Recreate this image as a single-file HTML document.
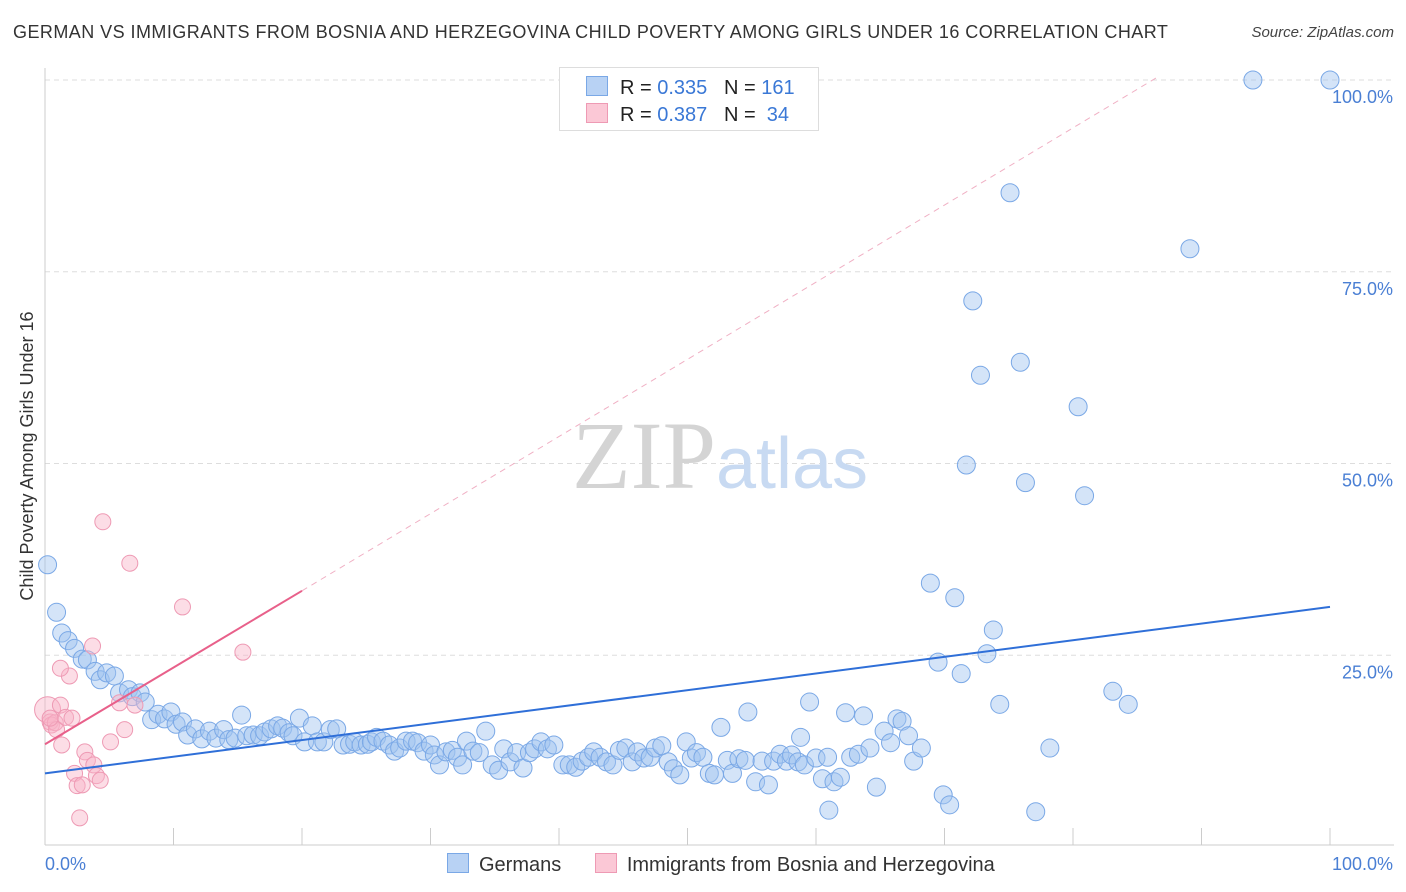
<!DOCTYPE html>
<html><head><meta charset="utf-8"><style>
body{margin:0;background:#fff;font-family:"Liberation Sans",sans-serif;}
#wrap{position:relative;width:1406px;height:892px;overflow:hidden;}
</style></head><body>
<div id="wrap">
<div style="position:absolute;left:13px;top:22px;font-size:18px;color:#333;letter-spacing:0.45px;">GERMAN VS IMMIGRANTS FROM BOSNIA AND HERZEGOVINA CHILD POVERTY AMONG GIRLS UNDER 16 CORRELATION CHART</div>
<div style="position:absolute;right:12px;top:24px;font-size:15px;color:#444;font-style:italic;">Source: ZipAtlas.com</div>
<svg id="svg" width="1406" height="892" style="position:absolute;left:0;top:0"></svg>
</div>
<script>
const blueX=[0.2,0.9,1.3,1.8,2.3,2.9,3.3,3.9,4.3,4.8,5.4,5.8,6.5,6.8,7.4,7.8,8.3,8.8,9.3,9.8,10.2,10.7,11.1,11.7,12.2,12.8,13.3,13.9,14.3,14.8,15.3,15.7,16.2,16.7,17.1,17.6,18.1,18.5,19.0,19.3,19.8,20.2,20.8,21.2,21.7,22.2,22.7,23.2,23.7,24.1,24.6,25.1,25.4,25.8,26.3,26.8,27.2,27.6,28.1,28.6,29.0,29.5,30.0,30.3,30.7,31.2,31.7,32.1,32.5,32.8,33.3,33.8,34.3,34.8,35.3,35.7,36.2,36.7,37.2,37.7,38.1,38.6,39.1,39.6,40.3,40.8,41.3,41.8,42.3,42.7,43.2,43.7,44.2,44.7,45.2,45.7,46.1,46.6,47.1,47.5,48.0,48.5,48.9,49.4,49.9,50.3,50.7,51.2,51.7,52.1,52.6,53.1,53.5,54.0,54.5,54.7,55.3,55.8,56.3,56.7,57.2,57.7,58.1,58.6,58.8,59.1,59.5,60.0,60.5,60.9,61.0,61.4,61.9,62.3,62.7,63.3,63.7,64.2,64.7,65.3,65.8,66.3,66.7,67.2,67.6,68.2,68.9,69.5,69.9,70.4,70.8,71.3,71.7,72.2,72.8,73.3,73.8,74.3,75.1,75.9,76.3,77.1,78.2,80.4,80.9,83.1,84.3,89.1,94.0,100];
const blueY=[36.8,30.6,27.9,26.9,25.9,24.5,24.4,22.9,21.8,22.7,22.3,20.1,20.5,19.6,20.1,18.9,16.6,17.3,16.7,17.6,16.0,16.3,14.6,15.4,14.1,15.1,14.2,15.3,14.0,14.2,17.2,14.5,14.6,14.5,15.0,15.4,15.8,15.5,14.9,14.5,16.8,13.7,15.8,13.7,13.7,15.3,15.4,13.3,13.4,13.7,13.3,13.4,13.7,14.3,13.8,13.3,12.5,12.9,13.8,13.8,13.6,12.5,13.3,12.0,10.7,12.4,12.6,11.7,10.7,13.8,12.5,12.3,15.1,10.7,10.0,12.8,11.1,12.3,10.3,12.3,12.8,13.7,12.8,13.3,10.7,10.7,10.4,11.2,11.7,12.4,11.7,11.1,10.7,12.6,12.9,11.1,12.4,11.6,11.7,12.9,13.2,11.1,10.2,9.4,13.7,11.6,12.3,11.7,9.6,9.4,15.6,11.3,9.6,11.5,11.3,17.6,8.5,11.2,8.1,11.2,12.1,11.2,12.0,11.1,14.3,10.7,18.9,11.6,8.9,11.7,4.8,8.5,9.1,17.5,11.7,12.1,17.1,12.9,7.8,15.1,13.6,16.7,16.4,14.5,11.2,12.9,34.4,24.1,6.8,5.5,32.5,22.6,49.8,71.2,61.5,25.2,28.3,18.6,85.3,63.2,47.5,4.6,12.9,57.4,45.8,20.3,18.6,78.0,100,100];
const pinkX=[0.2,0.4,0.5,0.8,0.9,1.2,1.3,1.6,1.9,2.1,2.3,2.5,2.7,2.9,3.1,3.3,3.7,3.8,4.0,4.3,4.5,5.1,5.8,6.2,6.6,7.0,10.7,15.4,1.2,0.4];
const pinkY=[17.9,16.3,15.9,16.2,15.3,18.5,13.3,16.9,22.3,16.8,9.6,8.0,3.8,8.1,12.4,11.3,26.2,10.7,9.3,8.7,42.4,13.7,18.8,15.3,37.0,18.5,31.3,25.4,23.3,16.8];
const blueTrend=[0,9.6,100,31.3];
const pinkTrend=[0,13.4,20,33.4,86.7,100.5];
const yTicks=[25,50,75,100];
const xTicks=[0,10,20,30,40,50,60,70,80,90,100];

const X=v=>45+v*12.85, Y=v=>847-v*7.67;
const svg=document.getElementById('svg');
const NS='http://www.w3.org/2000/svg';
function mk(t,a){const e=document.createElementNS(NS,t);for(const k in a)e.setAttribute(k,a[k]);svg.appendChild(e);return e;}
yTicks.forEach(t=>{
 const l=mk('line',{x1:45,x2:1394,y1:Y(t),y2:Y(t),stroke:'#ddd','stroke-dasharray':'5,4'});
 
 
 const tx=mk('text',{x:1393,y:Y(t)+23,'text-anchor':'end','font-size':18,fill:'#4a7fd4','font-family':'Liberation Sans'});
 tx.textContent=t.toFixed(1)+'%';
 
 
});
const ax=mk('line',{x1:45,x2:1394,y1:845,y2:845,stroke:'#ccc'});


const ay=mk('line',{x1:45,x2:45,y1:68,y2:845,stroke:'#ccc'});


xTicks.forEach(t=>{
 const l=mk('line',{x1:X(t),x2:X(t),y1:828,y2:845,stroke:'#ccc'});
 
 
});
[[0,'start','0.0%'],[100,'end','100.0%']].forEach(([v,a,s])=>{
 const tx=mk('text',{x:v?1393:45,y:870,'text-anchor':a,'font-size':18,fill:'#4a7fd4'});
 tx.textContent=s;
 
 
});
const yt=mk('text',{x:0,y:0,'font-size':18,fill:'#333',transform:'translate(33,456) rotate(-90)','text-anchor':'middle'});
yt.textContent='Child Poverty Among Girls Under 16';


const wm=mk('text',{x:720,y:488,'text-anchor':'middle','font-size':96});
wm.innerHTML='<tspan fill="#d4d4d4" font-family="Liberation Serif">ZIP</tspan><tspan fill="#c8daf2" font-size="72">atlas</tspan>';


blueX.forEach((v,i)=>{
 const c=mk('circle',{cx:X(v),cy:Y(blueY[i]),r:9,fill:'rgba(160,196,240,0.45)',stroke:'#7aa8e6','stroke-width':1});
 
 
});
pinkX.forEach((v,i)=>{
 const c=mk('circle',{cx:X(v),cy:Y(pinkY[i]),r:i===0?13:8,fill:'rgba(248,180,200,0.45)',stroke:'#ee9ab4','stroke-width':1});
 
 
});
const pd=mk('line',{x1:X(pinkTrend[2]),y1:Y(pinkTrend[3]),x2:X(pinkTrend[4]),y2:Y(pinkTrend[5]),stroke:'#f0b0c4','stroke-dasharray':'6,5','stroke-width':1});


const pl=mk('line',{x1:X(pinkTrend[0]),y1:Y(pinkTrend[1]),x2:X(pinkTrend[2]),y2:Y(pinkTrend[3]),stroke:'#e8608a','stroke-width':2});


const bl=mk('line',{x1:X(blueTrend[0]),y1:Y(blueTrend[1]),x2:X(blueTrend[2]),y2:Y(blueTrend[3]),stroke:'#2f6fd8','stroke-width':2});


</script>
<div style="position:absolute;left:559px;top:67px;width:258px;height:62px;border:1px solid #ddd;background:#fff;font-size:20px;color:#222;">
 <div style="position:absolute;left:26px;top:8px;white-space:pre;"><span style="display:inline-block;width:20px;height:18px;background:#b8d2f4;border:1px solid #7aa8e6;vertical-align:-2px;margin-right:12px"></span>R = <span style="color:#3a78d6">0.335</span>   N = <span style="color:#3a78d6">161</span></div>
 <div style="position:absolute;left:26px;top:35px;white-space:pre;"><span style="display:inline-block;width:20px;height:18px;background:#fbc8d6;border:1px solid #ee9ab4;vertical-align:-2px;margin-right:12px"></span>R = <span style="color:#3a78d6">0.387</span>   N =  <span style="color:#3a78d6">34</span></div>
</div>
<div style="position:absolute;left:447px;top:853px;font-size:20px;color:#333;white-space:nowrap;">
 <span><span style="display:inline-block;width:20px;height:18px;background:#b8d2f4;border:1px solid #7aa8e6;vertical-align:-2px;margin-right:10px"></span>Germans</span>
 <span style="margin-left:28px"><span style="display:inline-block;width:20px;height:18px;background:#fbc8d6;border:1px solid #ee9ab4;vertical-align:-2px;margin-right:10px"></span>Immigrants from Bosnia and Herzegovina</span>
</div>
</body></html>
